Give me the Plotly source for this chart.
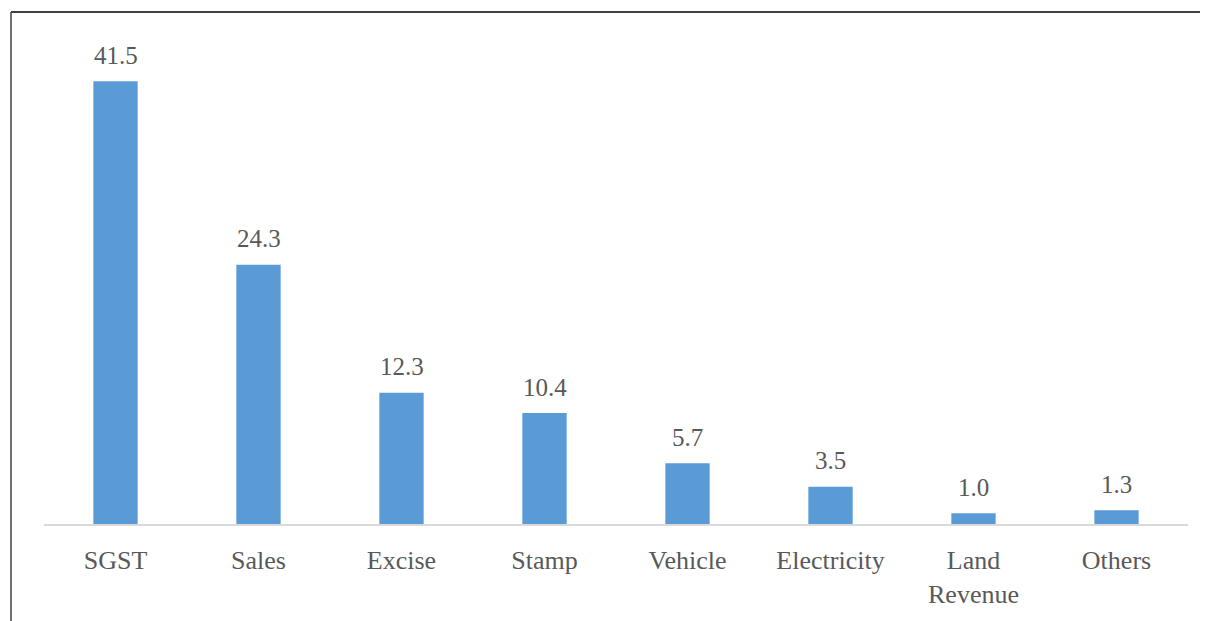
import plotly.graph_objects as go

categories = ["SGST", "Sales", "Excise", "Stamp", "Vehicle", "Electricity", "Land<br>Revenue", "Others"]
values = [41.5, 24.3, 12.3, 10.4, 5.7, 3.5, 1.0, 1.3]
value_labels = ["41.5", "24.3", "12.3", "10.4", "5.7", "3.5", "1.0", "1.3"]

W, H = 1200, 613
L, R, T, B = 36, 20, 36, 97

fig = go.Figure(go.Bar(
    x=categories, y=values,
    marker=dict(color="#5b9bd5", line=dict(width=0)),
    cliponaxis=False,
))

for c, v, t in zip(categories, values, value_labels):
    fig.add_annotation(x=c, y=v, text=t, showarrow=False, yanchor="middle",
                       yshift=26, font=dict(family="Liberation Serif", size=25, color="#595959"))

pw = W - L - R
ph = H - T - B
def px(x):
    return (x - L) / pw
def py(y):
    return (H - B - y) / ph

fig.add_shape(type="line", xref="paper", yref="paper",
              x0=px(3), x1=px(3), y0=py(4), y1=py(640),
              line=dict(color="#404040", width=1.5))
fig.add_shape(type="line", xref="paper", yref="paper",
              x0=px(3), x1=px(1230), y0=py(4), y1=py(4),
              line=dict(color="#404040", width=2))

fig.update_layout(
    width=W, height=H,
    margin=dict(l=L, r=R, t=T, b=B),
    paper_bgcolor="white", plot_bgcolor="white",
    bargap=0.69,
    showlegend=False,
    font=dict(family="Liberation Serif", size=26, color="#595959"),
    xaxis=dict(showline=True, linecolor="#d9d9d9", linewidth=1.5,
               ticks="", showgrid=False, ticklabelstandoff=12,
               tickfont=dict(family="Liberation Serif", size=26, color="#595959")),
    yaxis=dict(range=[0, 45], visible=False, showgrid=False),
)

fig.write_html("out.html")
